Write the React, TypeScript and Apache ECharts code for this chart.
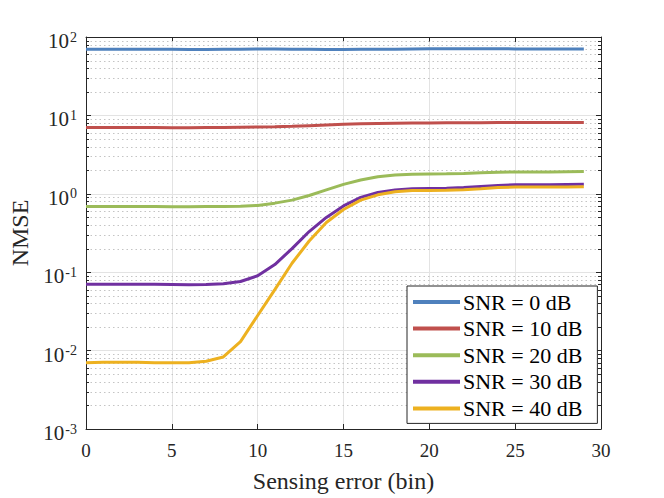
import React, { useEffect, useRef } from "react";
import * as echarts from "echarts";

const xBins = Array.from({ length: 30 }, (_, i) => i);
const snr0 = [70, 70, 70, 70, 70, 70, 69.5, 69.5, 70, 70, 70.5, 70.5, 70, 70, 69.5, 69.5, 70, 70, 70, 70.5, 71, 71, 71, 71, 71, 70.5, 70.5, 70.5, 70.5, 70.5];
const snr10 = [7.0, 7.0, 7.0, 7.0, 7.0, 6.95, 6.95, 7.0, 7.0, 7.05, 7.1, 7.15, 7.25, 7.4, 7.55, 7.7, 7.8, 7.9, 7.95, 8.0, 8.0, 8.05, 8.05, 8.05, 8.1, 8.1, 8.1, 8.1, 8.1, 8.1];
const snr20 = [0.69, 0.69, 0.69, 0.69, 0.69, 0.685, 0.685, 0.69, 0.69, 0.695, 0.71, 0.76, 0.83, 0.95, 1.12, 1.32, 1.5, 1.65, 1.74, 1.78, 1.79, 1.8, 1.82, 1.85, 1.88, 1.9, 1.9, 1.9, 1.91, 1.92];
const snr30 = [0.07, 0.07, 0.07, 0.07, 0.07, 0.0695, 0.069, 0.0695, 0.071, 0.076, 0.09, 0.125, 0.2, 0.33, 0.5, 0.7, 0.9, 1.04, 1.12, 1.16, 1.17, 1.18, 1.2, 1.24, 1.28, 1.3, 1.3, 1.3, 1.31, 1.32];
const snr40 = [0.007, 0.0071, 0.0071, 0.0071, 0.007, 0.007, 0.007, 0.0073, 0.0083, 0.013, 0.028, 0.06, 0.13, 0.25, 0.43, 0.63, 0.83, 0.97, 1.06, 1.1, 1.1, 1.11, 1.13, 1.16, 1.2, 1.22, 1.22, 1.22, 1.22, 1.23];
const seriesNames = ["SNR = 0 dB", "SNR = 10 dB", "SNR = 20 dB", "SNR = 30 dB", "SNR = 40 dB"];
const seriesColors = ["#4F81BD", "#C0504D", "#9BBB59", "#7030A0", "#EDB120"];
const seriesValues = [snr0, snr10, snr20, snr30, snr40];
const decadeExps = [-3, -2, -1, 0, 1];
const minorMantissas = [2, 3, 4, 5, 6, 7, 8, 9];

const FONT = "'Liberation Serif', 'Times New Roman', serif";
const AX = "#262626";

export default function App() {
  const ref = useRef<HTMLDivElement>(null);
  useEffect(() => {
    const chart = echarts.init(ref.current!, null, { renderer: "svg" });
    const minorVals: number[] = [];
    decadeExps.forEach((e) => minorMantissas.forEach((m) => minorVals.push(m * Math.pow(10, e))));

    const logAxisBase = {
      type: "log" as const,
      logBase: 10,
      min: 0.001,
      max: 100,
    };
    const option: any = {
      animation: false,
      backgroundColor: "#ffffff",
      textStyle: { fontFamily: FONT },
      grid: { left: 86, right: 63, top: 37, bottom: 65, containLabel: false },
      legend: {
        data: seriesNames,
        orient: "vertical",
        left: 407,
        top: 286,
        padding: [5, 15, 4, 6],
        itemGap: 4.6,
        itemWidth: 47,
        itemHeight: 4,
        icon: "rect",
        backgroundColor: "#ffffff",
        borderColor: AX,
        borderWidth: 1,
        borderRadius: 0,
        textStyle: { fontFamily: FONT, fontSize: 22, color: "#000", lineHeight: 22, padding: [0, 0, 0, -2] },
      },
      xAxis: [
        {
          type: "value",
          min: 0,
          max: 30,
          interval: 5,
          name: "Sensing error (bin)",
          nameLocation: "middle",
          nameGap: 40,
          nameTextStyle: { fontFamily: FONT, fontSize: 24, color: AX },
          axisLine: { show: true, onZero: false, lineStyle: { color: AX, width: 1 } },
          axisTick: { show: true, inside: true, length: 5, lineStyle: { color: AX } },
          axisLabel: { fontFamily: FONT, fontSize: 19, color: AX, margin: 12 },
          splitLine: { show: true, lineStyle: { color: "#e3e3e3", width: 1 } },
        },
        {
          type: "value",
          position: "top",
          min: 0,
          max: 30,
          interval: 5,
          axisLine: { show: true, onZero: false, lineStyle: { color: AX, width: 1 } },
          axisTick: { show: true, inside: true, length: 5, lineStyle: { color: AX } },
          axisLabel: { show: false },
          splitLine: { show: false },
        },
      ],
      yAxis: [
        {
          ...logAxisBase,
          name: "NMSE",
          nameLocation: "middle",
          nameGap: 50,
          nameTextStyle: { fontFamily: FONT, fontSize: 24, color: AX },
          axisLine: { show: true, onZero: false, lineStyle: { color: AX, width: 1 } },
          axisTick: { show: true, inside: true, length: 5, lineStyle: { color: AX } },
          axisLabel: {
            margin: 9,
            formatter: (v: number) => `{b|10}{s|${Math.round(Math.log10(v))}}`,
            rich: {
              b: { fontFamily: FONT, fontSize: 21, color: AX, lineHeight: 22, padding: [8, 0, 0, 0] },
              s: { fontFamily: FONT, fontSize: 14, color: AX, lineHeight: 14, verticalAlign: "top", padding: [4, 0, 0, 1] },
            },
          },
          splitLine: { show: true, lineStyle: { color: "#e3e3e3", width: 1 } },
        },
        {
          ...logAxisBase,
          position: "right",
          axisLine: { show: true, onZero: false, lineStyle: { color: AX, width: 1 } },
          axisTick: { show: true, inside: true, length: 5, lineStyle: { color: AX } },
          axisLabel: { show: false },
          splitLine: { show: false },
        },
      ],
      series: [
        {
          type: "custom",
          name: "minorGrid",
          silent: true,
          z: 1,
          xAxisIndex: 0,
          yAxisIndex: 0,
          data: minorVals.map((v) => [0, v]),
          renderItem: (params: any, api: any) => {
            const v = api.value(1);
            const p = api.coord([0, v]);
            const cs = params.coordSys;
            const y = Math.round(p[1]) + 0.5;
            return {
              type: "group",
              children: [
                {
                  type: "line",
                  shape: { x1: cs.x, y1: y, x2: cs.x + cs.width, y2: y },
                  style: { stroke: "#c4c4c4", lineWidth: 1, lineDash: [1.5, 3] },
                },
                {
                  type: "line",
                  shape: { x1: cs.x, y1: y, x2: cs.x + 3, y2: y },
                  style: { stroke: AX, lineWidth: 1 },
                },
                {
                  type: "line",
                  shape: { x1: cs.x + cs.width - 3, y1: y, x2: cs.x + cs.width, y2: y },
                  style: { stroke: AX, lineWidth: 1 },
                },
              ],
            };
          },
        },
        ...seriesNames.map((name, i) => ({
          type: "line",
          name,
          z: 5,
          xAxisIndex: 0,
          yAxisIndex: 0,
          showSymbol: false,
          symbol: "none",
          color: seriesColors[i],
          lineStyle: { color: seriesColors[i], width: 3 },
          data: xBins.map((x, j) => [x, seriesValues[i][j]]),
        })),
      ],
    };
    chart.setOption(option);
    return () => chart.dispose();
  }, []);
  return <div ref={ref} style={{ position: "fixed", left: 0, top: 0, width: 664, height: 498 }} />;
}
